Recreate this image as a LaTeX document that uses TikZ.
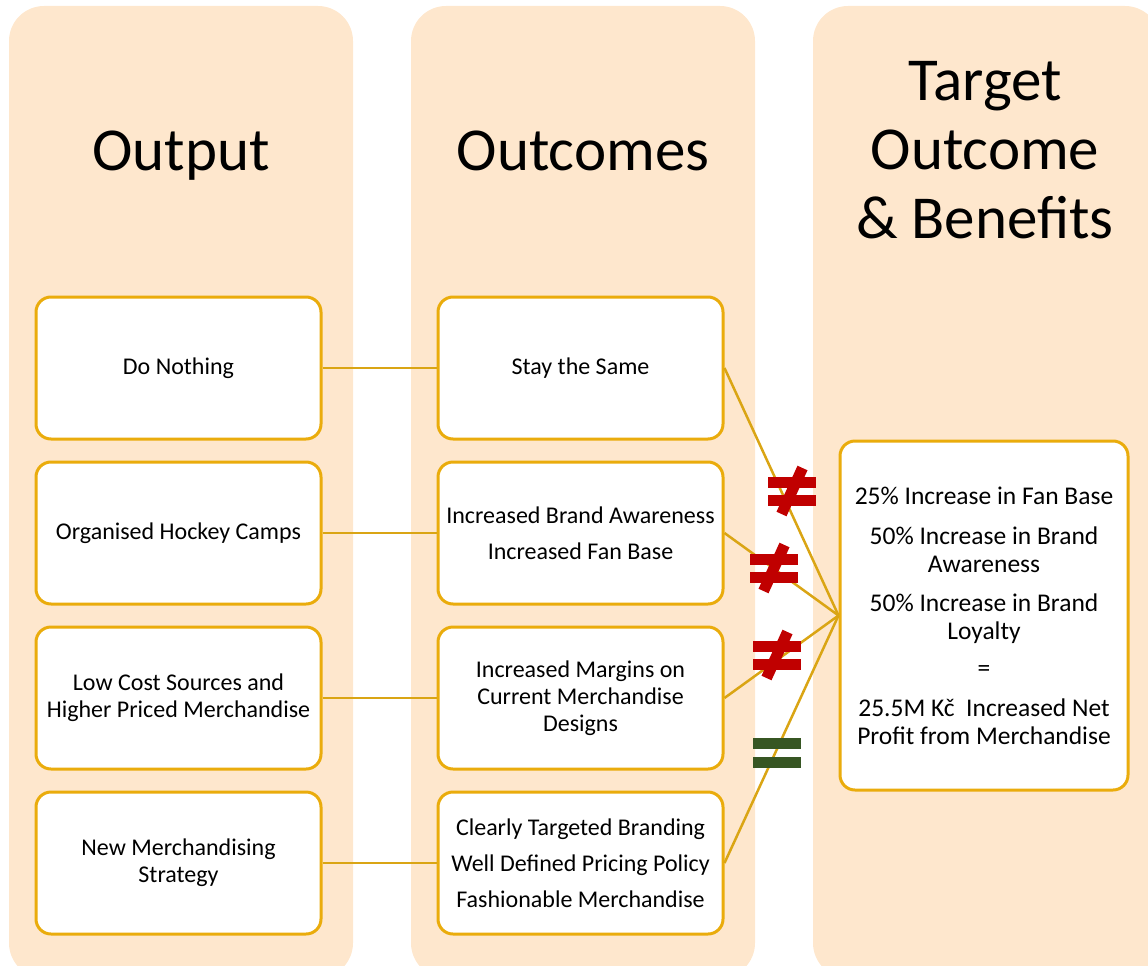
\documentclass[tikz,border=0pt]{standalone}
\usepackage{fontspec}
\setmainfont{Carlito}
\usetikzlibrary{calc}
\definecolor{colfill}{RGB}{254,231,205}
\definecolor{boxline}{RGB}{234,172,12}
\definecolor{linkline}{RGB}{218,165,20}
\definecolor{neqred}{RGB}{192,0,0}
\definecolor{eqgreen}{RGB}{55,86,35}
\tikzset{
	column/.style={fill=colfill, rounded corners=35pt},
	heading/.style={font=\fontsize{61}{69}\selectfont, align=center, inner sep=0pt},
	box/.style={draw=boxline, line width=3pt, fill=white, rounded corners=15pt,
			minimum width=285pt, minimum height=142pt, align=center,
			font=\fontsize{24}{27}\selectfont, inner sep=4pt},
	link/.style={draw=linkline, line width=2.5pt},
	notequal/.pic={
			\fill[neqred] (-24,-14.5) rectangle (24,-3.5);
			\fill[neqred] (-24,3.5) rectangle (24,14.5);
			\draw[neqred, line width=11pt] (10.5,-23) -- (-10.5,23);
		},
	equal/.pic={
			\fill[eqgreen] (-24,-15) rectangle (24,-4);
			\fill[eqgreen] (-24,4) rectangle (24,15);
		}
}

\begin{document}
\begin{tikzpicture}[x=1pt, y=-1pt]

			\useasboundingbox (0,0) rectangle (1148,966);
			\clip (0,0) rectangle (1148,966);

			% Draw the three columns
			\fill[column] (9,6) rectangle (353,978);
			\fill[column] (411,6) rectangle (755,978);
			\fill[column] (813,6) rectangle (1160,978);

			% Headings
			\node[heading, anchor=base] (hOutput) at (181,170) {Output};
			\node[heading, anchor=base] (hOutcomes) at (583,170) {Outcomes};
			\node[heading, anchor=north] (hTarget) at (985,61) {Target\\Outcome\\\& Benefits};

			% Outputs
			\node[box] (out1) at (178.5,368) {Do Nothing};
			\node[box] (out2) at (178.5,533) {Organised Hockey Camps};
			\node[box] (out3) at (178.5,698) {Low Cost Sources and\\Higher Priced Merchandise};
			\node[box] (out4) at (178.5,863) {New Merchandising\\Strategy};

			% Outcomes
			\node[box] (res1) at (580.5,368) {Stay the Same};
			\node[box] (res2) at (580.5,533) {Increased Brand Awareness\\[9pt]Increased Fan Base};
			\node[box] (res3) at (580.5,698) {Increased Margins on\\Current Merchandise\\Designs};
			\node[box] (res4) at (580.5,863) {Clearly Targeted Branding\\[9pt]Well Defined Pricing Policy\\[9pt]Fashionable Merchandise};

			% Target outcome
			\node[box, minimum width=288pt, minimum height=349pt,
				font=\fontsize{25.5}{28}\selectfont] (target) at (984,615.5)
			{25\% Increase in Fan Base\\[12pt]50\% Increase in Brand\\Awareness\\[11pt]50\% Increase in Brand\\Loyalty\\[9pt]=\\[12pt]25.5M Kč\ \ Increased Net\\Profit from Merchandise};

			% Connectors
			\foreach \i in {1,...,4} {
					\draw[link] (out\i) -- (res\i);
					\draw[link] (res\i.east) -- (target.west);
				}

			% Comparison signs
			\pic (neqA) at (792,491) {notequal};
			\pic (neqB) at (774,568) {notequal};
			\pic (neqC) at (777,655) {notequal};
			\pic (eqD) at (777,753) {equal};
		\end{tikzpicture}
\end{document}
